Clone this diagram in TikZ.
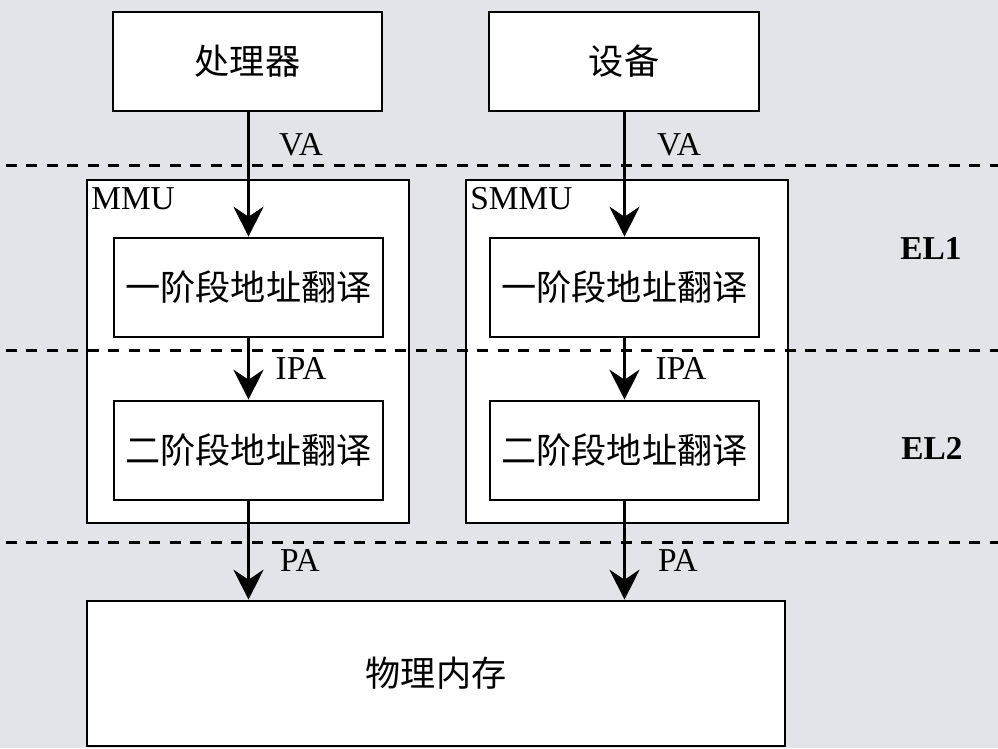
\documentclass[tikz,border=0pt]{standalone}
\usepackage{fontspec}
\setmainfont{Liberation Serif}
\newfontfamily\cjk{Noto Sans CJK SC}
\usetikzlibrary{arrows.meta}
\definecolor{bgcol}{RGB}{226,228,233}

\begin{document}
\begin{tikzpicture}[
    x=0.02cm, y=-0.02cm,
    block/.style={
        rectangle,
        draw=black,
        fill=white,
        line width=1.5pt,
        inner sep=0pt,
        font=\cjk\fontsize{20}{24}\selectfont
    },
    unit/.style={block, minimum width=6.44cm, minimum height=6.86cm},
    stage/.style={block, minimum width=5.38cm, minimum height=1.98cm},
    addr/.style={font=\fontsize{19}{22}\selectfont, inner sep=0pt},
    level/.style={font=\bfseries\fontsize{19}{22}\selectfont, inner sep=0pt},
    flow/.style={line width=1.5pt, -{Stealth[length=6mm, width=6mm, inset=2mm]}},
    split/.style={line width=1.7pt, dash pattern=on 0.22cm off 0.19cm}
    ]
    \fill[bgcol] (0,0) rectangle (998,748);
    \useasboundingbox (0,0) rectangle (998,748);

    % sources
    \node[block, minimum width=5.38cm, minimum height=1.98cm] (cpu) at (247.5,61.5) {处理器};
    \node[block, minimum width=5.40cm, minimum height=1.98cm] (dev) at (624,61.5) {设备};

    % translation units
    \node[unit] (mmu) at (248,351.5) {};
    \node[unit] (smmu) at (627,351.5) {};
    \node[addr, anchor=north west] (mmuname) at ([xshift=3pt,yshift=-5pt]mmu.north west) {MMU};
    \node[addr, anchor=north west] (smmuname) at ([xshift=3pt,yshift=-5pt]smmu.north west) {SMMU};

    \node[stage] (mmuA) at (248.5,287.5) {一阶段地址翻译};
    \node[stage] (mmuB) at (248.5,450.5) {二阶段地址翻译};
    \node[stage] (smmuA) at (624.5,287.5) {一阶段地址翻译};
    \node[stage] (smmuB) at (624.5,450.5) {二阶段地址翻译};

    \node[block, minimum width=13.96cm, minimum height=2.9cm] (mem) at (436,673.5) {物理内存};

    % privilege levels
    \draw[split] (6,165) -- (998,165);
    \draw[split] (6,350) -- (998,350);
    \draw[split] (6,542) -- (998,542);
    \node[level] (el1) at (931,248) {EL1};
    \node[level] (el2) at (932,448) {EL2};

    % address flow
    \draw[flow] (mmuA.north |- cpu.south) -- (mmuA.north);
    \draw[flow] (mmuA.south) -- (mmuB.north);
    \draw[flow] (mmuB.south) -- (mmuB.south |- mem.north);
    \draw[flow] (smmuA.north |- dev.south) -- (smmuA.north);
    \draw[flow] (smmuA.south) -- (smmuB.north);
    \draw[flow] (smmuB.south) -- (smmuB.south |- mem.north);

    \node[addr] (va1) at (301,145) {VA};
    \node[addr] (ipa1) at (301,368) {IPA};
    \node[addr] (pa1) at (300,560) {PA};
    \node[addr] (va2) at (679,145) {VA};
    \node[addr] (ipa2) at (681,368) {IPA};
    \node[addr] (pa2) at (678,560) {PA};
\end{tikzpicture}
\end{document}
